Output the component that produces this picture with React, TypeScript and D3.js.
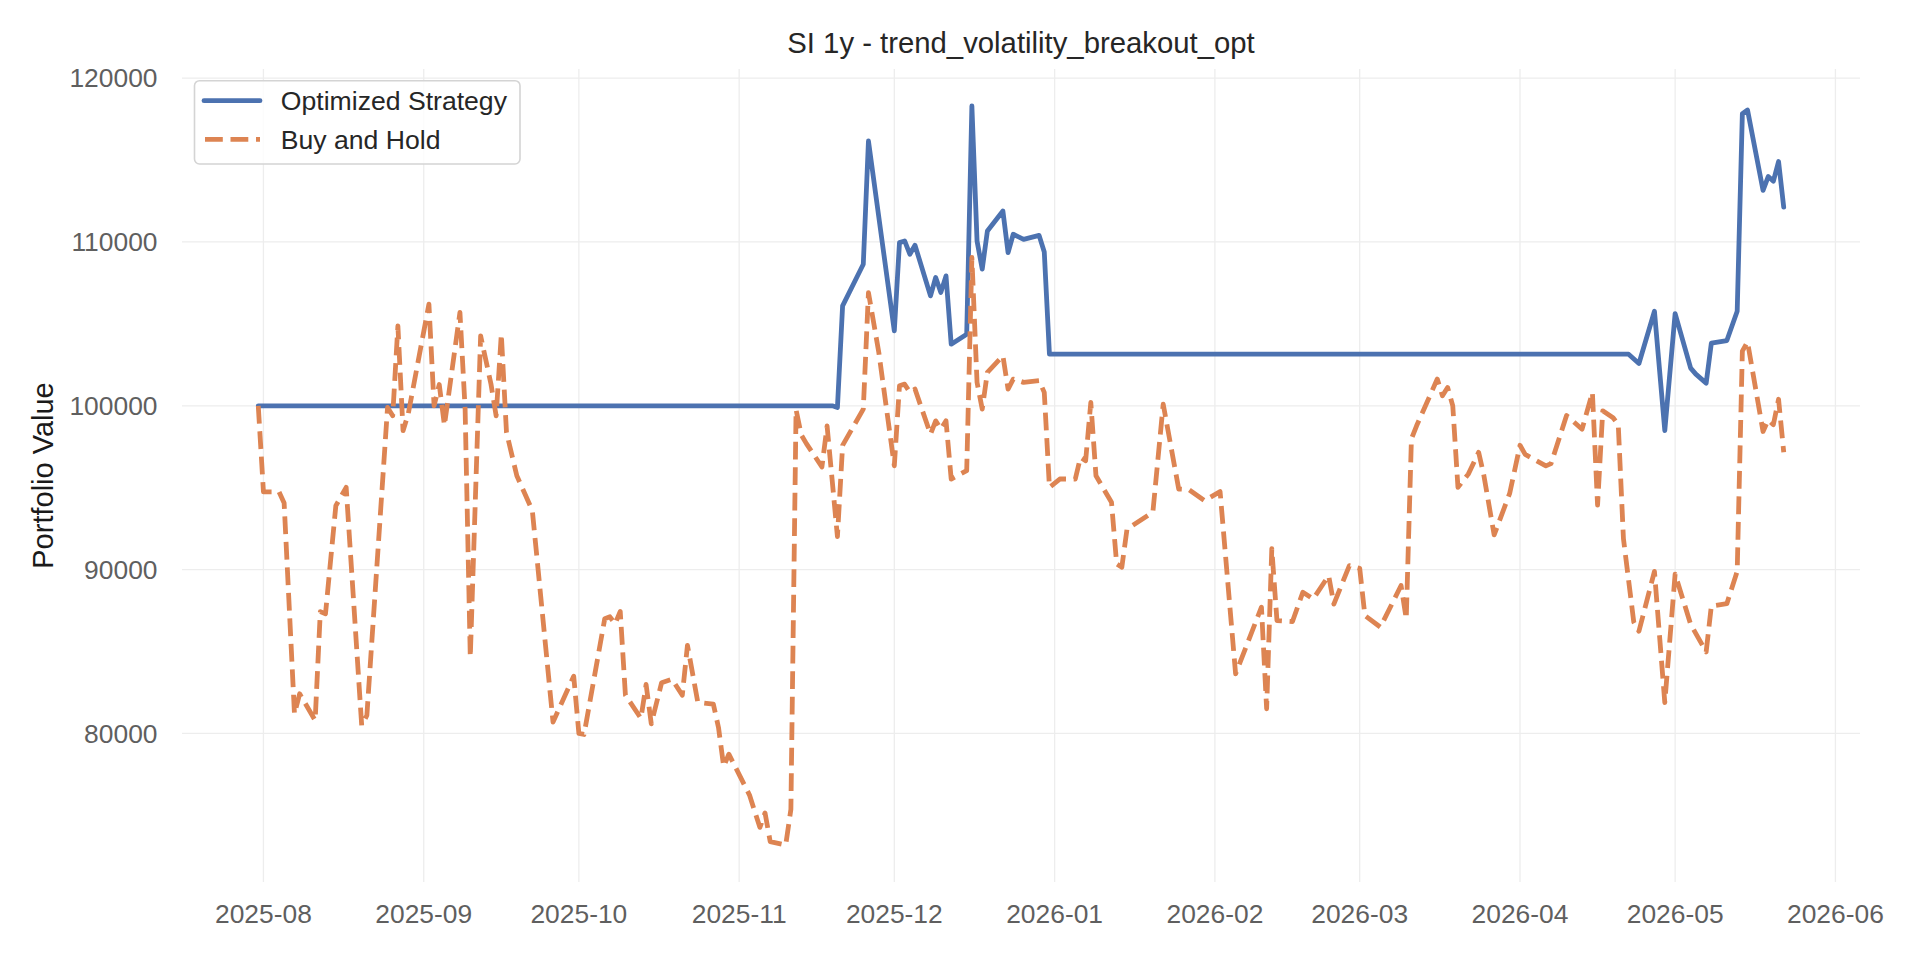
import { useEffect } from "react";
import * as d3 from "d3";

// Optimized strategy (portfolio value)
const stratDates = [
  "2025-07-31", "2025-11-19", "2025-11-20", "2025-11-21", "2025-11-25", "2025-11-26",
  "2025-12-01", "2025-12-02", "2025-12-03", "2025-12-04", "2025-12-05", "2025-12-08",
  "2025-12-09", "2025-12-10", "2025-12-11", "2025-12-12", "2025-12-15", "2025-12-16",
  "2025-12-17", "2025-12-18", "2025-12-19", "2025-12-22", "2025-12-23", "2025-12-24",
  "2025-12-26", "2025-12-29", "2025-12-30", "2025-12-31", "2026-04-22", "2026-04-24",
  "2026-04-27", "2026-04-29", "2026-05-01", "2026-05-04", "2026-05-05", "2026-05-07",
  "2026-05-08", "2026-05-11", "2026-05-13", "2026-05-14", "2026-05-15", "2026-05-18",
  "2026-05-19", "2026-05-20", "2026-05-21", "2026-05-22",
];
const stratValues = [
  100000, 100000, 99900, 106100, 108640, 116160,
  104570, 109960, 110060, 109250, 109800, 106710,
  107830, 106920, 107930, 103760, 104370, 118300,
  110060, 108340, 110670, 111890, 109350, 110470,
  110160, 110400, 109390, 103150, 103150, 102580,
  105770, 98490, 105630, 102300, 101930, 101380,
  103820, 103980, 105770, 117830, 118050, 113150,
  113990, 113710, 114910, 112120,
];

// Buy and hold benchmark
const holdDates = [
  "2025-07-31", "2025-08-01", "2025-08-04", "2025-08-05", "2025-08-07", "2025-08-08",
  "2025-08-11", "2025-08-12", "2025-08-13", "2025-08-15", "2025-08-17", "2025-08-20",
  "2025-08-21", "2025-08-25", "2025-08-26", "2025-08-27", "2025-08-28", "2025-08-29",
  "2025-09-02", "2025-09-03", "2025-09-04", "2025-09-05", "2025-09-08", "2025-09-09",
  "2025-09-10", "2025-09-12", "2025-09-14", "2025-09-15", "2025-09-16", "2025-09-17",
  "2025-09-19", "2025-09-22", "2025-09-26", "2025-09-30", "2025-10-01", "2025-10-02",
  "2025-10-06", "2025-10-07", "2025-10-08", "2025-10-09", "2025-10-10", "2025-10-13",
  "2025-10-14", "2025-10-15", "2025-10-17", "2025-10-19", "2025-10-21", "2025-10-22",
  "2025-10-24", "2025-10-27", "2025-10-28", "2025-10-29", "2025-10-30", "2025-11-03",
  "2025-11-05", "2025-11-06", "2025-11-07", "2025-11-10", "2025-11-11", "2025-11-12",
  "2025-11-13", "2025-11-14", "2025-11-17", "2025-11-18", "2025-11-20", "2025-11-21",
  "2025-11-25", "2025-11-26", "2025-11-28", "2025-12-01", "2025-12-02", "2025-12-03",
  "2025-12-04", "2025-12-05", "2025-12-08", "2025-12-09", "2025-12-10", "2025-12-11",
  "2025-12-12", "2025-12-15", "2025-12-16", "2025-12-17", "2025-12-18", "2025-12-19",
  "2025-12-22", "2025-12-23", "2025-12-24", "2025-12-26", "2025-12-29", "2025-12-30",
  "2025-12-31", "2026-01-02", "2026-01-05", "2026-01-06", "2026-01-07", "2026-01-08",
  "2026-01-09", "2026-01-12", "2026-01-13", "2026-01-14", "2026-01-15", "2026-01-20",
  "2026-01-22", "2026-01-25", "2026-01-27", "2026-01-30", "2026-02-02", "2026-02-05",
  "2026-02-10", "2026-02-11", "2026-02-12", "2026-02-13", "2026-02-16", "2026-02-18",
  "2026-02-20", "2026-02-23", "2026-02-24", "2026-02-27", "2026-03-01", "2026-03-02",
  "2026-03-05", "2026-03-09", "2026-03-10", "2026-03-11", "2026-03-12", "2026-03-16",
  "2026-03-17", "2026-03-18", "2026-03-19", "2026-03-20", "2026-03-22", "2026-03-24",
  "2026-03-25", "2026-03-27", "2026-03-30", "2026-04-01", "2026-04-02", "2026-04-06",
  "2026-04-07", "2026-04-10", "2026-04-13", "2026-04-15", "2026-04-16", "2026-04-17",
  "2026-04-19", "2026-04-20", "2026-04-21", "2026-04-23", "2026-04-24", "2026-04-27",
  "2026-04-29", "2026-05-01", "2026-05-04", "2026-05-07", "2026-05-08", "2026-05-11",
  "2026-05-13", "2026-05-14", "2026-05-15", "2026-05-18", "2026-05-19", "2026-05-20",
  "2026-05-21", "2026-05-22",
];
const holdValues = [
  100000, 94750, 94750, 94070, 81200, 82420,
  80800, 87440, 87300, 93900, 95020, 80490,
  81100, 99900, 99390, 104880, 98480, 99500,
  106200, 100000, 101300, 98800, 105700, 99800,
  84660, 104270, 101330, 99390, 104370, 98380,
  95730, 93600, 80700, 83500, 80000, 79940,
  87000, 87120, 86690, 87450, 82340, 80920,
  82990, 80590, 83100, 83310, 82340, 85380,
  81900, 81790, 80370, 77980, 78740, 76240,
  74270, 75150, 73400, 73190, 75370, 99760,
  98230, 97690, 96270, 98770, 92020, 97580,
  99800, 106910, 103260, 96340, 101220, 101320,
  100820, 101020, 98270, 99080, 98580, 99080,
  95530, 96040, 109050, 101430, 99800, 102040,
  103050, 101020, 101630, 101430, 101530, 100820,
  95020, 95530, 95530, 96850, 96650, 100200,
  95730, 94110, 90350, 90150, 92480, 93500,
  100100, 94920, 94880, 94210, 94760, 83640,
  87710, 81510, 91280, 86890, 86830, 88620,
  88210, 89630, 87900, 90240, 90080, 87200,
  86490, 89030, 86990, 97970, 98780, 101630,
  100610, 101120, 100000, 95020, 95830, 97160,
  95770, 92120, 94650, 97590, 97030, 96330,
  96470, 99410, 98570, 100820, 93940, 99690,
  99270, 98850, 91900, 86800, 86240, 89890,
  81890, 89730, 86660, 84980, 87780, 87920,
  89890, 103340, 103900, 98430, 99130, 98850,
  100400, 97170,
];

const yTicks = [80000, 90000, 100000, 110000, 120000];
const xTickLabels = [
  "2025-08", "2025-09", "2025-10", "2025-11", "2025-12", "2026-01",
  "2026-02", "2026-03", "2026-04", "2026-05", "2026-06",
];

const W = 1920;
const H = 960;
const margin = { top: 69, right: 60, bottom: 78, left: 182 };
const FONT = "'Liberation Sans', Arial, Helvetica, sans-serif";
const BLUE = "#4c72b0";
const ORANGE = "#dd8452";
const LW = 4.8;

const parseDay = d3.timeParse("%Y-%m-%d");
const parseMonth = d3.timeParse("%Y-%m");

export default function App() {
  useEffect(() => {
    document.body.style.margin = "0";
  }, []);

  const strat = stratDates.map((d, i) => ({ date: parseDay(d)!, value: stratValues[i] }));
  const hold = holdDates.map((d, i) => ({ date: parseDay(d)!, value: holdValues[i] }));
  const all = [...strat, ...hold];

  // matplotlib-style 5% margins around the data
  const [t0, t1] = d3.extent(all, (d) => d.date.getTime()) as [number, number];
  const [v0, v1] = d3.extent(all, (d) => d.value) as [number, number];
  const tPad = (t1 - t0) * 0.05;
  const vPad = (v1 - v0) * 0.05;

  const x = d3
    .scaleTime()
    .domain([new Date(t0 - tPad), new Date(t1 + tPad)])
    .range([margin.left, W - margin.right]);
  const y = d3
    .scaleLinear()
    .domain([v0 - vPad, v1 + vPad])
    .range([H - margin.bottom, margin.top]);

  const line = d3
    .line<{ date: Date; value: number }>()
    .x((d) => x(d.date))
    .y((d) => y(d.value));

  const xTicks = xTickLabels.map((s) => ({ label: s, date: parseMonth(s)! }));
  const left = margin.left;
  const right = W - margin.right;
  const top = margin.top;
  const bottom = H - margin.bottom;
  const gridColor = "#ededed";

  return (
    <svg width={W} height={H} style={{ display: "block" }} fontFamily={FONT}>
      <rect width={W} height={H} fill="#ffffff" />

      {/* grid */}
      <g stroke={gridColor} strokeWidth={1.3}>
        {yTicks.map((t) => (
          <line key={t} x1={left} x2={right} y1={y(t)} y2={y(t)} />
        ))}
        {xTicks.map((t) => (
          <line key={t.label} x1={x(t.date)} x2={x(t.date)} y1={top} y2={bottom} />
        ))}
      </g>

      {/* series */}
      <path
        d={line(strat) ?? ""}
        fill="none"
        stroke={BLUE}
        strokeWidth={LW}
        strokeLinejoin="round"
        strokeLinecap="round"
      />
      <path
        d={line(hold) ?? ""}
        fill="none"
        stroke={ORANGE}
        strokeWidth={LW}
        strokeLinejoin="round"
        strokeDasharray="17.8 7.7"
      />

      {/* tick labels */}
      <g fill="#5f5f5f" fontSize={26.4}>
        {yTicks.map((t) => (
          <text key={t} x={157.5} y={y(t) + 9.2} textAnchor="end">
            {t}
          </text>
        ))}
        {xTicks.map((t) => (
          <text key={t.label} x={x(t.date)} y={923} textAnchor="middle">
            {t.label}
          </text>
        ))}
      </g>

      {/* title and axis label */}
      <text x={(left + right) / 2} y={53} textAnchor="middle" fontSize={29.3} fill="#262626">
        SI 1y - trend_volatility_breakout_opt
      </text>
      <text
        transform={`translate(53,${(top + bottom) / 2}) rotate(-90)`}
        textAnchor="middle"
        fontSize={29}
        fill="#1a1a1a"
      >
        Portfolio Value
      </text>

      {/* legend */}
      <g>
        <rect
          x={194.5}
          y={80.7}
          width={325.5}
          height={83.3}
          rx={5}
          fill="#ffffff"
          fillOpacity={0.8}
          stroke="#d4d4d4"
          strokeWidth={1.6}
        />
        <line x1={204} x2={260} y1={100.7} y2={100.7} stroke={BLUE} strokeWidth={LW} strokeLinecap="round" />
        <line x1={205} x2={260} y1={139.3} y2={139.3} stroke={ORANGE} strokeWidth={LW} strokeDasharray="17.8 7.7" />
        <text x={280.8} y={110.2} fontSize={26.6} fill="#262626">
          Optimized Strategy
        </text>
        <text x={280.8} y={148.8} fontSize={26.6} fill="#262626">
          Buy and Hold
        </text>
      </g>
    </svg>
  );
}
